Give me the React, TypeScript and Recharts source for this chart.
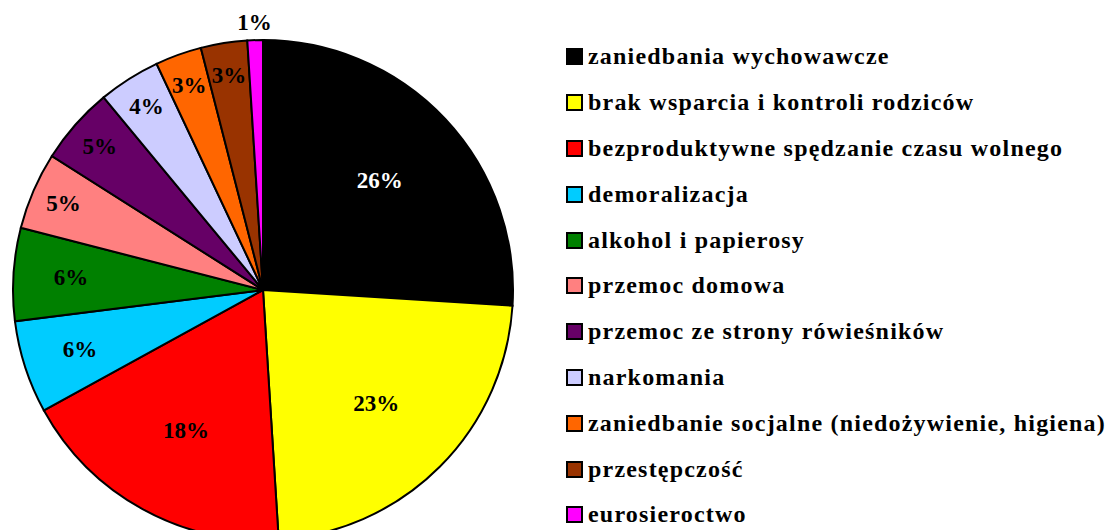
import { Cell, Pie, PieChart } from "recharts";

// ---------------------------------------------------------------------------
// Data
// ---------------------------------------------------------------------------

const categories = [
  "zaniedbania wychowawcze",
  "brak wsparcia i kontroli rodziców",
  "bezproduktywne spędzanie czasu wolnego",
  "demoralizacja",
  "alkohol i papierosy",
  "przemoc domowa",
  "przemoc ze strony rówieśników",
  "narkomania",
  "zaniedbanie socjalne (niedożywienie, higiena)",
  "przestępczość",
  "eurosieroctwo",
];

const shares = [26, 23, 18, 6, 6, 5, 5, 4, 3, 3, 1];

const colors = [
  "#000000",
  "#FFFF00",
  "#FF0000",
  "#00CCFF",
  "#008000",
  "#FF8080",
  "#660066",
  "#CCCCFF",
  "#FF6600",
  "#993300",
  "#FF00FF",
];

const data = categories.map((name, i) => ({ name, value: shares[i] }));

const FONT = "'Liberation Serif', 'Times New Roman', serif";
const RAD = Math.PI / 180;

// ---------------------------------------------------------------------------
// Labels
// ---------------------------------------------------------------------------

function renderLabel(props: any) {
  const { cx, cy, midAngle, outerRadius, percent, index } = props;
  // big slices: label closer to centre, small ones near the rim, tiny ones outside
  const frac =
    percent < 0.02 ? 1.07 : percent < 0.055 ? 0.87 : percent < 0.1 ? 0.77 : 0.64;
  const r = outerRadius * frac;
  const x = cx + r * Math.cos(-midAngle * RAD);
  const y = cy + r * Math.sin(-midAngle * RAD);
  return (
    <text
      x={x}
      y={y}
      fill={index === 0 ? "#ffffff" : "#000000"}
      textAnchor="middle"
      dominantBaseline="central"
      fontFamily={FONT}
      fontWeight="bold"
      fontSize={23}
    >
      {`${Math.round(percent * 100)}%`}
    </text>
  );
}

// ---------------------------------------------------------------------------
// Legend
// ---------------------------------------------------------------------------

function LegendList() {
  return (
    <div
      style={{
        position: "absolute",
        left: 566,
        top: 34,
        fontFamily: FONT,
        fontWeight: "bold",
        fontSize: 24,
        letterSpacing: 1.2,
      }}
    >
      {categories.map((name, i) => (
        <div
          key={name}
          style={{ display: "flex", alignItems: "center", height: 45.8 }}
        >
          <span
            style={{
              display: "inline-block",
              width: 13,
              height: 13,
              background: colors[i],
              border: "2px solid #000",
              marginRight: 5,
              flexShrink: 0,
            }}
          />
          <span style={{ whiteSpace: "nowrap" }}>{name}</span>
        </div>
      ))}
    </div>
  );
}

export default function App() {
  return (
    <div
      style={{
        position: "fixed",
        left: 0,
        top: 0,
        width: 1111,
        height: 530,
        overflow: "hidden",
        background: "#fff",
      }}
    >
      <PieChart
        width={1111}
        height={530}
        margin={{ top: 0, right: 0, bottom: 0, left: 0 }}
      >
        <Pie
          data={data}
          dataKey="value"
          nameKey="name"
          cx={263}
          cy={290}
          outerRadius={250}
          startAngle={90}
          endAngle={-270}
          stroke="#000"
          strokeWidth={2}
          label={renderLabel}
          labelLine={false}
          isAnimationActive={false}
        >
          {data.map((d, i) => (
            <Cell key={d.name} fill={colors[i]} />
          ))}
        </Pie>
      </PieChart>
      <LegendList />
    </div>
  );
}
